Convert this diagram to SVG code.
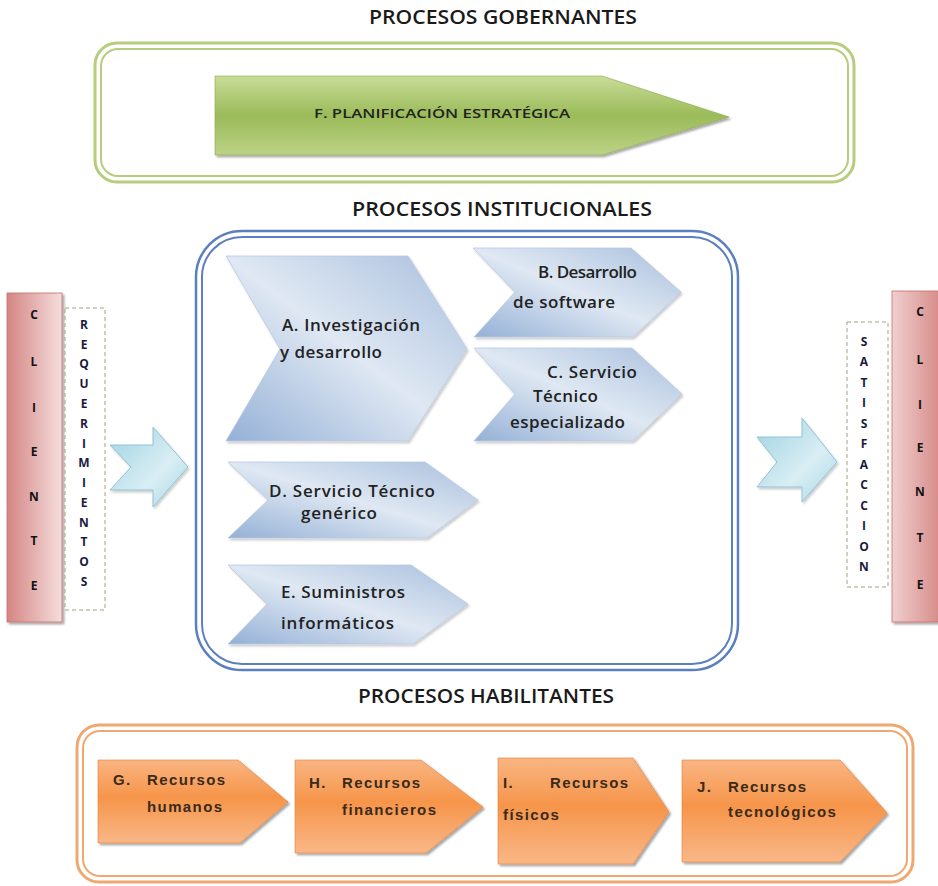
<svg xmlns="http://www.w3.org/2000/svg" width="938" height="886" viewBox="0 0 938 886">
<defs>
<linearGradient id="gGreen" x1="0" y1="0" x2="0" y2="1">
<stop offset="0" stop-color="#c9dc98"/><stop offset="0.5" stop-color="#9bbb59"/><stop offset="1" stop-color="#bcd286"/>
</linearGradient>
<linearGradient id="gBlue" x1="0" y1="1" x2="1" y2="0">
<stop offset="0" stop-color="#94b0d6"/><stop offset="0.5" stop-color="#dfe8f3"/><stop offset="1" stop-color="#a8bfdd"/>
</linearGradient>
<linearGradient id="gOrange" x1="0" y1="0" x2="0" y2="1">
<stop offset="0" stop-color="#f9b582"/><stop offset="0.45" stop-color="#f6954a"/><stop offset="1" stop-color="#f9b787"/>
</linearGradient>
<linearGradient id="gRed" x1="0" y1="0" x2="1" y2="0">
<stop offset="0" stop-color="#d48583"/><stop offset="1" stop-color="#f4dedd"/>
</linearGradient>
<linearGradient id="gRedR" x1="0" y1="0" x2="1" y2="0">
<stop offset="0" stop-color="#f0d0cf"/><stop offset="1" stop-color="#d48583"/>
</linearGradient>
<linearGradient id="gCyan" x1="0" y1="0" x2="1" y2="1">
<stop offset="0" stop-color="#9fd3e2"/><stop offset="0.6" stop-color="#d9eef4"/><stop offset="1" stop-color="#a9d6e4"/>
</linearGradient>
<filter id="sh" x="-10%" y="-10%" width="130%" height="130%">
<feDropShadow dx="2" dy="2" stdDeviation="1.2" flood-color="#000" flood-opacity="0.35"/>
</filter>
<filter id="shs" x="-10%" y="-10%" width="130%" height="130%">
<feDropShadow dx="1.5" dy="2" stdDeviation="1" flood-color="#000" flood-opacity="0.2"/>
</filter>
</defs>
<style>
.title{font-family:"Open Sans","Liberation Sans",sans-serif;font-size:19px;font-weight:600;fill:#1a1a1a;}
.bt{font-family:"Open Sans","Liberation Sans",sans-serif;font-size:17px;font-weight:600;fill:#222;}
.ot{font-family:"Liberation Sans",Arial,sans-serif;font-size:15px;font-weight:bold;fill:#3a2a1a;letter-spacing:1.4px;}
.lt{font-family:"Open Sans","Liberation Sans",sans-serif;font-size:12px;font-weight:bold;fill:#111;text-anchor:middle;}
.ltb{font-family:"Open Sans","Liberation Sans",sans-serif;font-size:12px;font-weight:bold;fill:#1a1a40;text-anchor:middle;}
.blue{fill:url(#gBlue);stroke:#b7c9e1;stroke-width:0.8;filter:url(#shs);}
.orange{fill:url(#gOrange);stroke:#e07f36;stroke-width:0.6;filter:url(#sh);}
.cyan{fill:url(#gCyan);stroke:#8fc3d3;stroke-width:1;filter:url(#shs);}
.dash{fill:#fff;stroke:#a3a27a;stroke-width:1;stroke-dasharray:4 3;}
</style>
<rect width="938" height="886" fill="#fff"/>

<text class="title" x="503" y="24" text-anchor="middle" textLength="268" lengthAdjust="spacingAndGlyphs">PROCESOS GOBERNANTES</text>
<text class="title" x="502" y="216" text-anchor="middle" textLength="300" lengthAdjust="spacingAndGlyphs">PROCESOS INSTITUCIONALES</text>
<text class="title" x="486" y="703" text-anchor="middle" textLength="256" lengthAdjust="spacingAndGlyphs">PROCESOS HABILITANTES</text>

<g id="frame-gobernantes">
<rect x="95" y="43" width="759" height="139" rx="22" fill="none" stroke="#b5cd7c" stroke-width="3"/>
<rect x="101" y="49" width="747" height="127" rx="17" fill="#fff" stroke="#b5cd7c" stroke-width="2"/>
</g>
<g id="frame-institucionales">
<rect x="196" y="231" width="542" height="439" rx="46" fill="none" stroke="#5b7fbf" stroke-width="2.5"/>
<rect x="202" y="237" width="530" height="427" rx="40" fill="#fff" stroke="#5b7fbf" stroke-width="2"/>
</g>
<g id="frame-habilitantes">
<rect x="77" y="725" width="836" height="157" rx="22" fill="none" stroke="#f0a872" stroke-width="3"/>
<rect x="83" y="731" width="824" height="145" rx="17" fill="#fff" stroke="#f0a872" stroke-width="2"/>
</g>

<g id="node-F">
<polygon points="215,76 602,76 729,117 602,155 215,155" fill="url(#gGreen)" stroke="#8aa84c" stroke-width="0.6" filter="url(#sh)"/>
<text x="442" y="118" text-anchor="middle" font-family="Open Sans, Liberation Sans, sans-serif" font-size="12.5" font-weight="600" fill="#222" textLength="256" lengthAdjust="spacingAndGlyphs">F. PLANIFICACIÓN ESTRATÉGICA</text>
</g>

<g id="node-A">
<polygon class="blue" points="226,256 408,256 467,349 408,441 226,441 280,349"/>
<text class="bt"><tspan x="282" y="331" textLength="138">A. Investigación</tspan><tspan x="280" y="358" textLength="102">y desarrollo</tspan></text>
</g>
<g id="node-B">
<polygon class="blue" points="473,248 631,248 681,292 633,337 474,337 515,292"/>
<text class="bt"><tspan x="538" y="278" textLength="99">B. Desarrollo</tspan><tspan x="513" y="308" textLength="102">de software</tspan></text>
</g>
<g id="node-C">
<polygon class="blue" points="474,348 632,348 682,394 633,441 474,441 515,394"/>
<text class="bt"><tspan x="547" y="378" textLength="90">C. Servicio</tspan><tspan x="533" y="402" textLength="65">Técnico</tspan><tspan x="510" y="428" textLength="115">especializado</tspan></text>
</g>
<g id="node-D">
<polygon class="blue" points="228,462 425,462 478,500 427,538 228,538 268,500"/>
<text class="bt"><tspan x="269" y="497" textLength="166">D. Servicio Técnico</tspan><tspan x="301" y="519" textLength="76">genérico</tspan></text>
</g>
<g id="node-E">
<polygon class="blue" points="228,565 411,565 468,604 413,644 228,644 267,604"/>
<text class="bt"><tspan x="281" y="598" textLength="124">E. Suministros</tspan><tspan x="281" y="629" textLength="113">informáticos</tspan></text>
</g>

<g id="node-G">
<polygon class="orange" points="98,760 238,760 288,802 240,843 98,843"/>
<text class="ot"><tspan x="113" y="785">G.</tspan><tspan x="147" y="785">Recursos</tspan><tspan x="147" y="812">humanos</tspan></text>
</g>
<g id="node-H">
<polygon class="orange" points="295,760 421,760 483,807 426,853 295,853"/>
<text class="ot"><tspan x="309" y="788">H.</tspan><tspan x="342" y="788">Recursos</tspan><tspan x="342" y="815">financieros</tspan></text>
</g>
<g id="node-I">
<polygon class="orange" points="498,758 633,758 669,812 633,864 498,864"/>
<text class="ot"><tspan x="503" y="788">I.</tspan><tspan x="550" y="788">Recursos</tspan><tspan x="503" y="820">físicos</tspan></text>
</g>
<g id="node-J">
<polygon class="orange" points="682,760 840,760 887,813 840,862 682,862"/>
<text class="ot"><tspan x="697" y="792">J.</tspan><tspan x="728" y="792">Recursos</tspan><tspan x="728" y="817">tecnológicos</tspan></text>
</g>

<g id="node-cliente-left">
<rect x="7" y="293" width="55" height="329" fill="url(#gRed)" stroke="#c96d6b" stroke-width="0.8" filter="url(#sh)"/>
<text class="lt"><tspan x="34" y="319">C</tspan><tspan x="34" y="366">L</tspan><tspan x="34" y="412">I</tspan><tspan x="34" y="456">E</tspan><tspan x="34" y="501">N</tspan><tspan x="34" y="545">T</tspan><tspan x="34" y="590">E</tspan></text>
</g>
<g id="node-requerimientos">
<rect class="dash" x="65" y="308" width="40" height="302"/>
<text class="ltb"><tspan x="84" y="329">R</tspan><tspan x="84" y="349">E</tspan><tspan x="84" y="368">Q</tspan><tspan x="84" y="388">U</tspan><tspan x="84" y="408">E</tspan><tspan x="84" y="428">R</tspan><tspan x="84" y="448">I</tspan><tspan x="84" y="467">M</tspan><tspan x="84" y="487">I</tspan><tspan x="84" y="507">E</tspan><tspan x="84" y="527">N</tspan><tspan x="84" y="546">T</tspan><tspan x="84" y="566">O</tspan><tspan x="84" y="586">S</tspan></text>
</g>
<g id="node-satisfaccion">
<rect class="dash" x="847" y="322" width="41" height="265"/>
<text class="ltb"><tspan x="864" y="346">S</tspan><tspan x="864" y="366">A</tspan><tspan x="864" y="387">T</tspan><tspan x="864" y="407">I</tspan><tspan x="864" y="428">S</tspan><tspan x="864" y="448">F</tspan><tspan x="864" y="469">A</tspan><tspan x="864" y="489">C</tspan><tspan x="864" y="510">C</tspan><tspan x="864" y="530">I</tspan><tspan x="864" y="551">O</tspan><tspan x="864" y="571">N</tspan></text>
</g>
<g id="node-cliente-right">
<rect x="892" y="291" width="52" height="331" fill="url(#gRedR)" stroke="#c96d6b" stroke-width="0.8" filter="url(#sh)"/>
<text class="lt"><tspan x="920" y="316">C</tspan><tspan x="920" y="364">L</tspan><tspan x="920" y="409">I</tspan><tspan x="920" y="452">E</tspan><tspan x="920" y="496">N</tspan><tspan x="920" y="542">T</tspan><tspan x="920" y="589">E</tspan></text>
</g>

<g id="connectors">
<polygon class="cyan" points="110,445 153,445 153,427 188,467 153,507 153,490 110,490 131,467"/>
<polygon class="cyan" points="757,437 802,437 802,418 837,462 802,502 802,487 757,487 777,462"/>
</g>
</svg>
